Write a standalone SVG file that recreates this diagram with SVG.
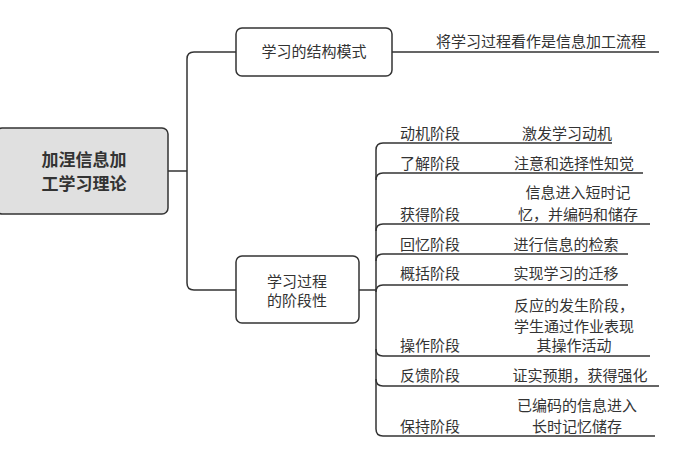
<svg xmlns="http://www.w3.org/2000/svg" width="700" height="470" viewBox="0 0 700 470">
<style>
text{font-family:"Noto Sans CJK SC","Noto Sans",sans-serif;font-size:15px;fill:#333}
.c{text-anchor:middle}
.ln{fill:none;stroke:#333;stroke-width:1.5}
.box{fill:#fff;stroke:#333;stroke-width:1.5}
</style>
<rect width="700" height="470" fill="#fff"/>
<g id="connectors" class="ln">
<path d="M168 171H187M236 52H194Q187 52 187 59V283Q187 290 194 290H236"/>
<path d="M392 52H426M426 52H659"/>
<path d="M359 290H376"/>
<path d="M612 143H383Q376 143 376 150V429Q376 436 383 436H655"/>
<path d="M376 180Q376 173 383 173H643M376 231Q376 224 383 224H650M376 261Q376 254 383 254H628M376 292Q376 285 383 285H628M376 349Q376 356 383 356H650M376 379Q376 386 383 386H659"/>
</g>
<g id="root"><rect x="-4" y="128" width="172" height="86" rx="6" fill="#e0e0e0" stroke="#333" stroke-width="1.5"/>
<text class="c" x="84" y="166" style="font-weight:bold;font-size:17px">加涅信息加</text>
<text class="c" x="84" y="190" style="font-weight:bold;font-size:17px">工学习理论</text></g>
<g id="n1"><rect class="box" x="236" y="28" width="156" height="48" rx="6"/><text class="c" x="314" y="57">学习的结构模式</text></g>
<g id="n1d"><text class="c" x="541" y="47">将学习过程看作是信息加工流程</text></g>
<g id="n2"><rect class="box" x="236" y="256" width="123" height="67" rx="6"/><text class="c" x="297" y="287">学习过程</text><text class="c" x="297" y="306">的阶段性</text></g>
<g id="stages">
<text x="400" y="139">动机阶段</text><text class="c" x="567" y="139">激发学习动机</text>
<text x="400" y="169">了解阶段</text><text class="c" x="574" y="169">注意和选择性知觉</text>
<text x="400" y="220">获得阶段</text><text class="c" x="578" y="198">信息进入短时记</text><text class="c" x="578" y="220">忆，并编码和储存</text>
<text x="400" y="250">回忆阶段</text><text class="c" x="566" y="250">进行信息的检索</text>
<text x="400" y="279">概括阶段</text><text class="c" x="566" y="279">实现学习的迁移</text>
<text x="400" y="351">操作阶段</text><text class="c" x="574" y="311">反应的发生阶段，</text><text class="c" x="574" y="332">学生通过作业表现</text><text class="c" x="574" y="351">其操作活动</text>
<text x="400" y="381">反馈阶段</text><text class="c" x="580" y="381">证实预期，获得强化</text>
<text x="400" y="432">保持阶段</text><text class="c" x="577" y="411">已编码的信息进入</text><text class="c" x="577" y="432">长时记忆储存</text>
</g>
</svg>
